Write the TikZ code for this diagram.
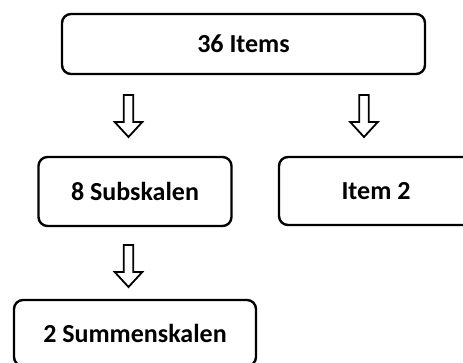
\documentclass[tikz,border=0pt]{standalone}
\usepackage{fontspec}
\setmainfont{Carlito}
\begin{document}
\begin{tikzpicture}[x=1pt,y=-1pt,
  box/.style={draw=black, line width=2.4pt, rounded corners=9pt, inner sep=0pt,
    font=\fontsize{26}{30}\selectfont\bfseries, align=center},
  label/.style={inner sep=0pt, font=\fontsize{26}{30}\selectfont\bfseries},
  downarrow/.pic={\draw[line width=1.8pt, line join=miter, fill=white]
    (-4.8,0) -- (4.8,0) -- (4.8,27) -- (13.8,27) -- (0,42) -- (-13.8,27) -- (-4.8,27) -- cycle;}]
\useasboundingbox (0,0) rectangle (463,363);
\node[box, minimum width=363pt, minimum height=60pt] (items) at (243.5,44) {36 Items};
\node[box, minimum width=193pt, minimum height=69pt] (sub) at (135,191.5) {8 Subskalen};
\begin{scope}
\clip (0,0) rectangle (463,363);
\draw[line width=2.4pt, rounded corners=9pt] (279,157) rectangle (520,225);
\end{scope}
\node[label] (item2) at (376,191) {Item 2};
\node[box, minimum width=242pt, minimum height=66pt] (summ) at (135,333) {2 Summenskalen};
\pic (a1) at (128.5,95) {downarrow};
\pic (a2) at (364,95) {downarrow};
\pic (a3) at (128.5,245) {downarrow};
\end{tikzpicture}
\end{document}
